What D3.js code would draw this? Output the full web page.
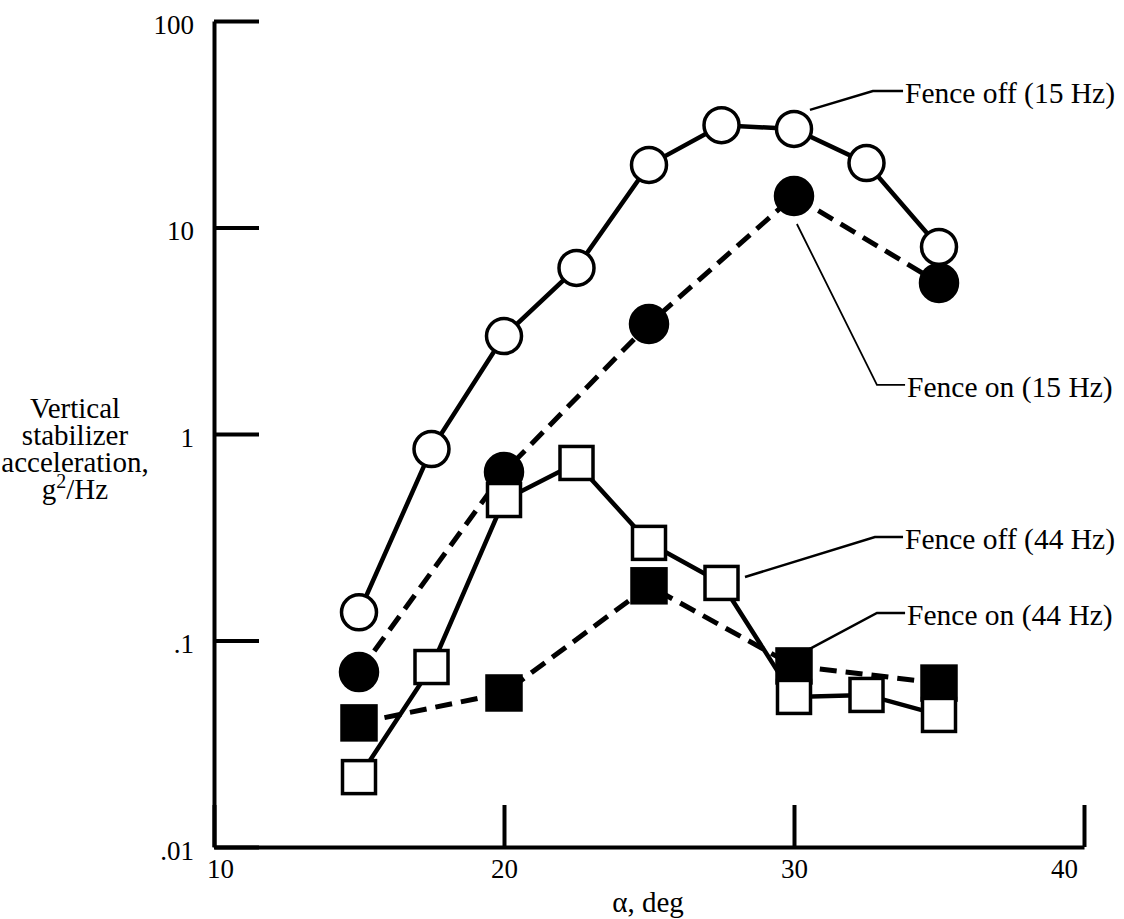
<!DOCTYPE html>
<html>
<head>
<meta charset="utf-8">
<script src="https://cdn.jsdelivr.net/npm/d3@7"></script>
<style>
  body { margin: 0; background: #fff; }
  svg { display: block; }
  text { font-family: "Liberation Serif", "Times New Roman", serif; fill: #000; }
</style>
</head>
<body>
<svg id="chart" width="1124" height="919"></svg>
<script>
// angle of attack, deg
const alphaFine = [15, 17.5, 20, 22.5, 25, 27.5, 30, 32.5, 35];
const alphaCoarse = [15, 20, 25, 30, 35];

// vertical stabilizer acceleration, g^2/Hz
const fenceOff15 = [0.137, 0.845, 2.98, 6.37, 20.1, 31.3, 30.0, 20.5, 8.05];
const fenceOn15 = [0.0703, 0.655, 3.41, 14.2, 5.39];
const fenceOff44 = [0.0218, 0.0744, 0.479, 0.724, 0.297, 0.190, 0.0533, 0.0545, 0.0436];
const fenceOn44 = [0.0399, 0.0557, 0.184, 0.0753, 0.0622];

// tick labels
const xTicks = [10, 20, 30, 40];
const yTicks = [0.01, 0.1, 1, 10, 100];
const yTickLabels = ['.01', '.1', '1', '10', '100'];

// callouts: label, anchor, knee, end (alpha, value)
const callouts = [
  { label: 'Fence off (15 Hz)', w: 2.5, pts: [[30.55, 37.1], [32.72, 45.8], [33.76, 45.8]] },
  { label: 'Fence on (15 Hz)', w: 1.8, pts: [[30.10, 10.4], [32.86, 1.73], [33.83, 1.73]] },
  { label: 'Fence off (44 Hz)', w: 2.5, pts: [[28.31, 0.203], [32.79, 0.317], [33.76, 0.317]] },
  { label: 'Fence on (44 Hz)', w: 2.5, pts: [[30.48, 0.090], [32.86, 0.136], [33.83, 0.136]] }
];

const svg = d3.select('#chart');

const x = d3.scaleLinear().domain([10, 40]).range([214, 1084]);
const y = d3.scaleLog().domain([0.01, 100]).range([847, 21]);

// axes
const xAxis = svg.append('g')
  .attr('transform', 'translate(0,847)')
  .call(d3.axisBottom(x).tickValues(xTicks).tickSize(-42).tickSizeOuter(0).tickPadding(12).tickFormat(d3.format('d')));

xAxis.selectAll('text')
  .attr('font-size', 27)
  .attr('dx', d => d === 10 ? 6 : (d === 40 ? -20 : 0));

const yAxis = svg.append('g')
  .attr('transform', 'translate(214,0)')
  .call(d3.axisLeft(y).tickValues(yTicks).tickSize(-45).tickSizeOuter(0).tickPadding(20)
    .tickFormat((d, i) => yTickLabels[i]));

yAxis.selectAll('text')
  .attr('font-size', 27)
  .attr('dy', '0.45em');

svg.selectAll('.domain, .tick line')
  .attr('stroke', '#000')
  .attr('stroke-width', 4);
svg.selectAll('.tick text').style('font-family', '"Liberation Serif", "Times New Roman", serif');

// axis titles
svg.append('text')
  .attr('x', 648).attr('y', 912)
  .attr('text-anchor', 'middle')
  .attr('font-size', 29)
  .text('\u03b1, deg');

const yTitle = svg.append('text')
  .attr('text-anchor', 'middle')
  .attr('font-size', 29);
['Vertical', 'stabilizer', 'acceleration,'].forEach((s, i) => {
  yTitle.append('tspan').attr('x', 75).attr('y', 418 + i * 27).text(s);
});
const last = yTitle.append('tspan').attr('x', 75).attr('y', 499);
last.append('tspan').text('g');
last.append('tspan').attr('font-size', 20).attr('dy', -11).text('2');
last.append('tspan').attr('dy', 11).text('/Hz');

// series lines
const line = (xs) => d3.line()
  .x((d, i) => x(xs[i]))
  .y(d => y(d));

const series = [
  { xs: alphaFine, ys: fenceOff15, dash: null, shape: 'circle', fill: '#fff' },
  { xs: alphaCoarse, ys: fenceOn15, dash: '17,9', shape: 'circle', fill: '#000' },
  { xs: alphaCoarse, ys: fenceOn44, dash: '17,9', shape: 'square', fill: '#000' },
  { xs: alphaFine, ys: fenceOff44, dash: null, shape: 'square', fill: '#fff' }
];

series.forEach(s => {
  svg.append('path')
    .datum(s.ys)
    .attr('d', line(s.xs))
    .attr('fill', 'none')
    .attr('stroke', '#000')
    .attr('stroke-width', s.dash ? 5 : 4.5)
    .attr('stroke-dasharray', s.dash);
});

// markers
series.forEach(s => {
  const g = svg.append('g');
  const pts = s.ys.map((v, i) => ({ a: s.xs[i], v: v }));
  if (s.shape === 'circle') {
    g.selectAll('circle')
      .data(pts)
      .enter().append('circle')
        .attr('cx', d => x(d.a))
        .attr('cy', d => y(d.v))
        .attr('r', s.fill === '#000' ? 18.5 : 17.5)
        .attr('fill', s.fill)
        .attr('stroke', '#000')
        .attr('stroke-width', 3.5);
  } else {
    const side = s.fill === '#000' ? 34 : 33;
    g.selectAll('rect')
      .data(pts)
      .enter().append('rect')
        .attr('x', d => x(d.a) - side / 2)
        .attr('y', d => y(d.v) - side / 2)
        .attr('width', side)
        .attr('height', side)
        .attr('fill', s.fill)
        .attr('stroke', '#000')
        .attr('stroke-width', 3.5);
  }
});

// callouts
const leader = d3.line().x(d => x(d[0])).y(d => y(d[1]));
callouts.forEach(c => {
  svg.append('path')
    .attr('d', leader(c.pts))
    .attr('fill', 'none')
    .attr('stroke', '#000')
    .attr('stroke-width', c.w);
  const end = c.pts[c.pts.length - 1];
  svg.append('text')
    .attr('x', x(end[0]) + 2)
    .attr('y', y(end[1]) + 12)
    .attr('font-size', 29.5)
    .text(c.label);
});
</script>
</body>
</html>
